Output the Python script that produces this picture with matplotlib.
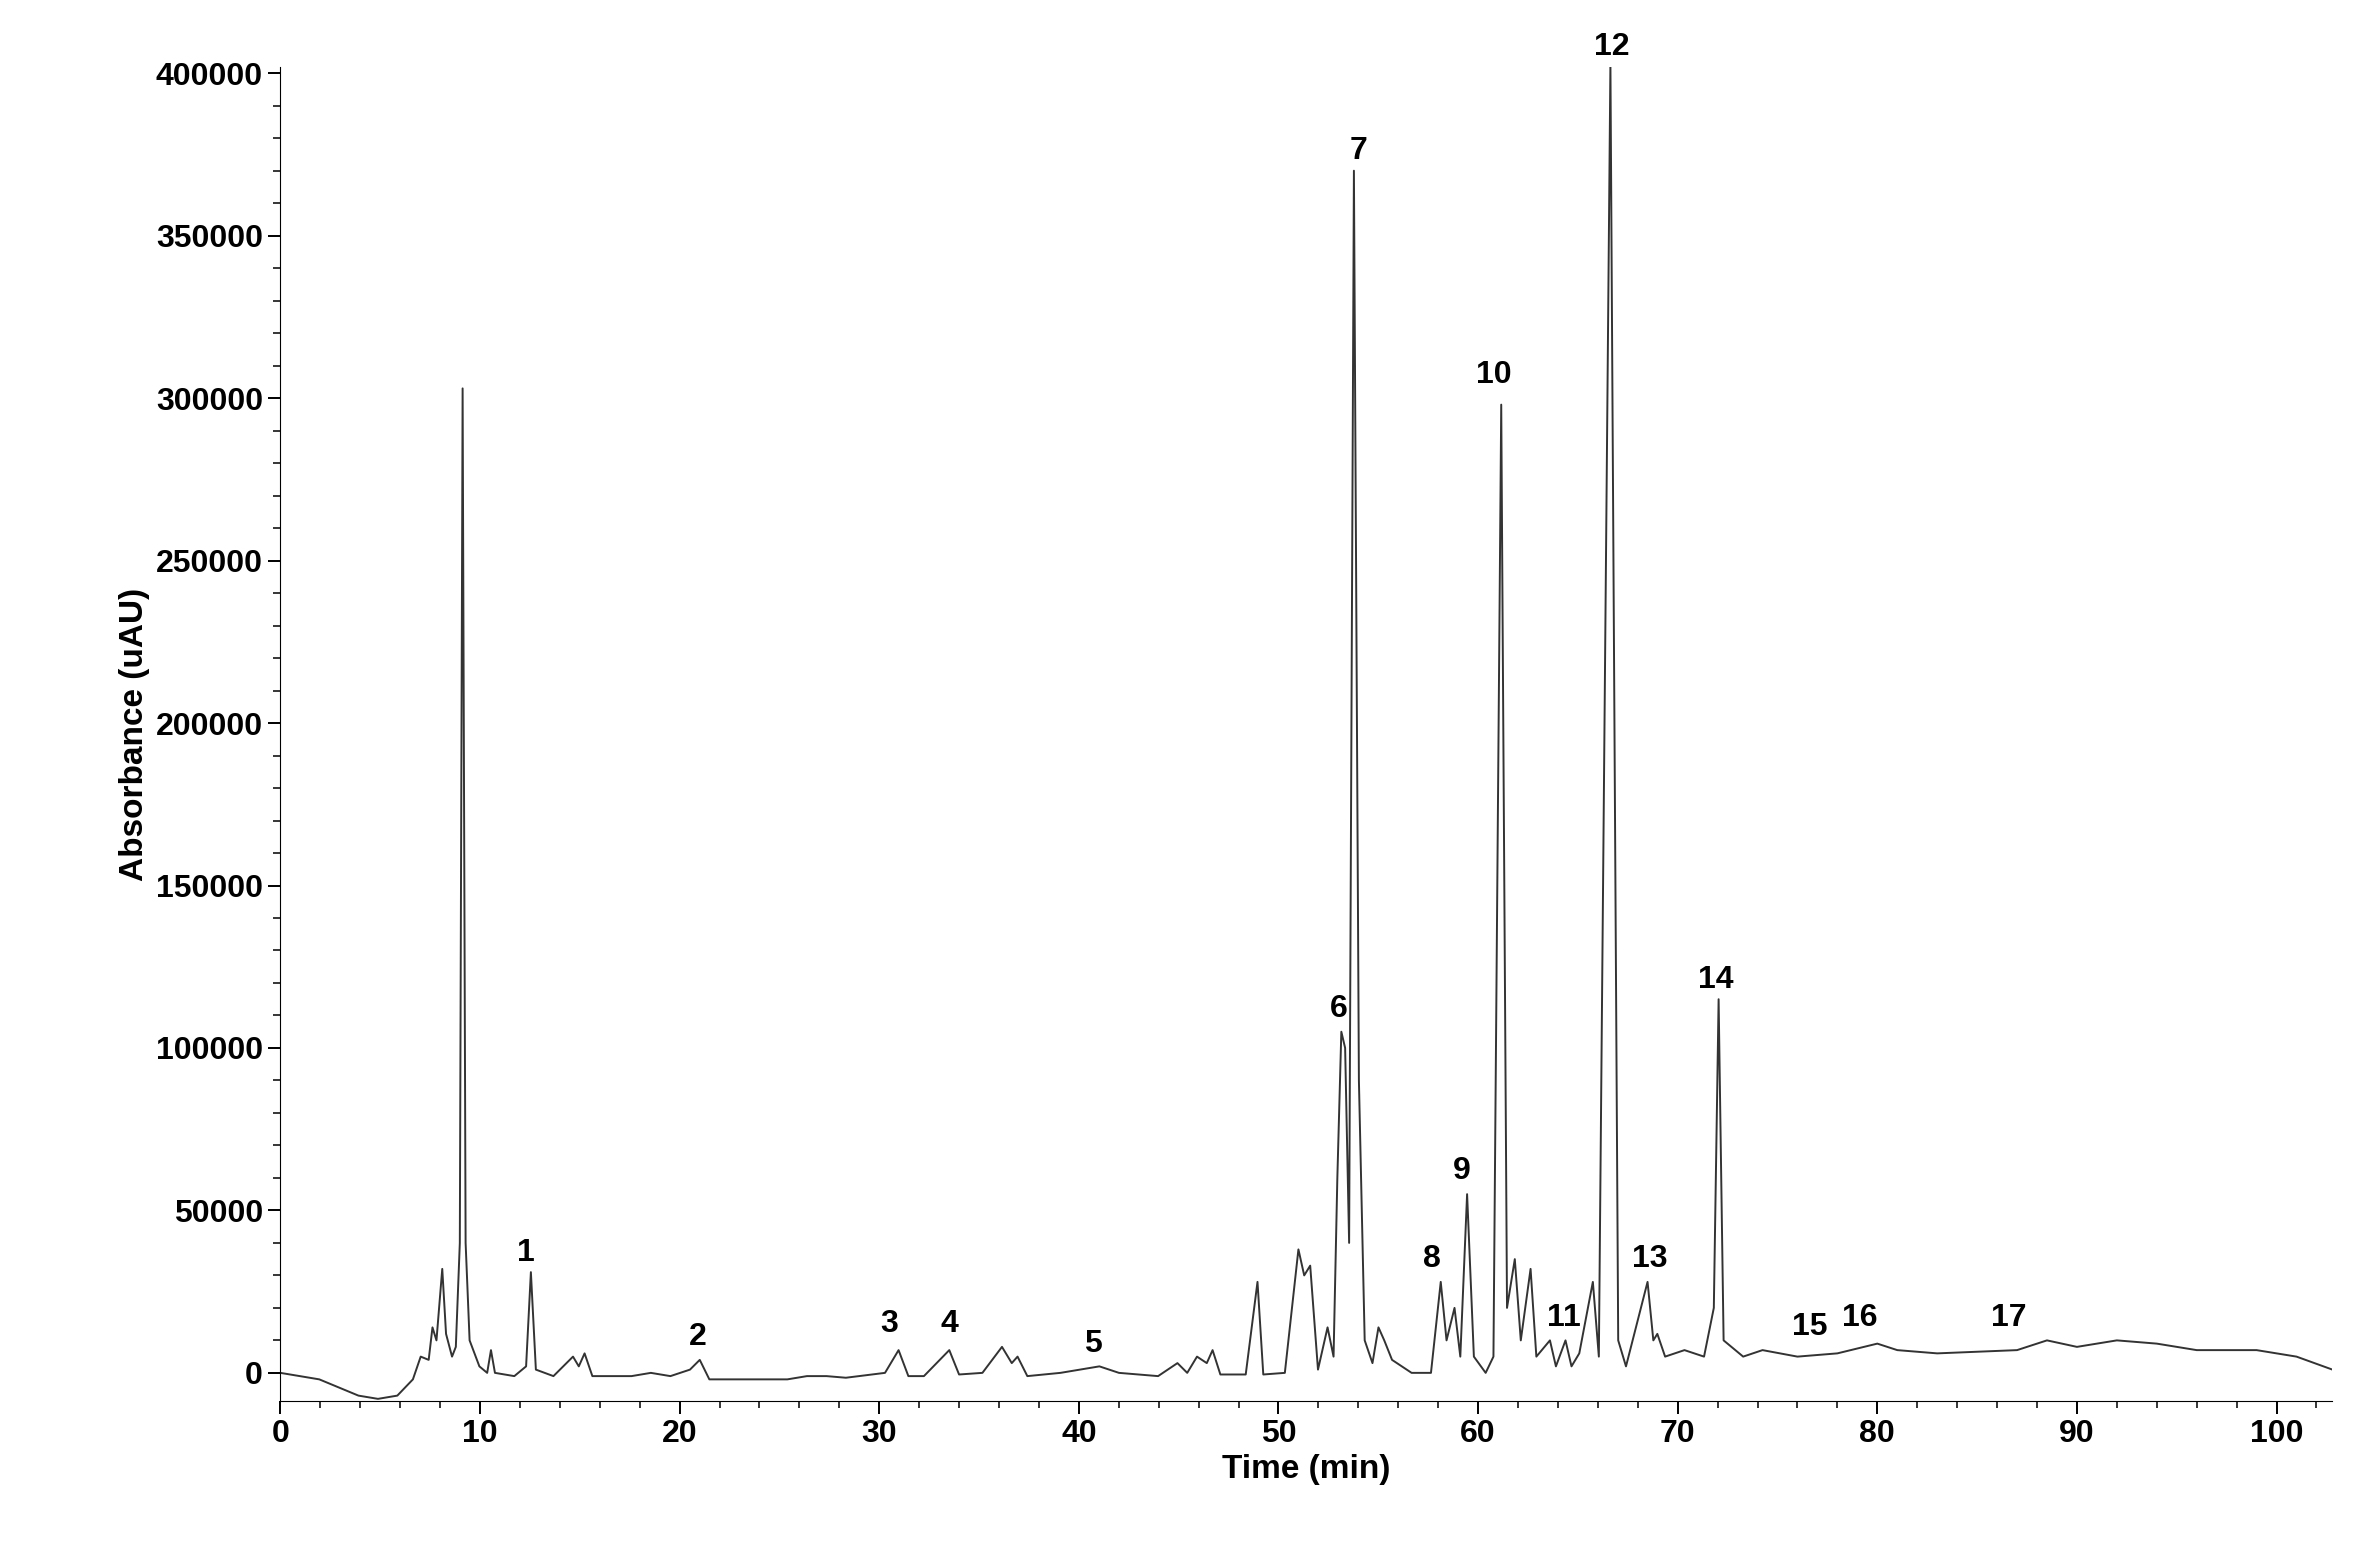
import matplotlib
matplotlib.use("Agg")
import matplotlib.pyplot as plt
from matplotlib.ticker import MultipleLocator

plt.rcParams['font.family'] = ['Liberation Sans', 'DejaVu Sans']

# chromatogram trace (time in min, absorbance in uAU)
times = [0, 1.95, 3.91, 4.89, 5.86, 6.64, 7.03, 7.43, 7.62, 7.82, 8.11, 8.30, 8.60, 8.79,
         8.99, 9.13, 9.28, 9.48, 9.97, 10.36, 10.55, 10.75, 11.72, 12.31, 12.55, 12.80,
         13.68, 14.66, 14.95, 15.24, 15.63, 17.59, 18.56, 19.54, 20.52, 21.01, 21.49, 25.40,
         26.38, 27.36, 28.33, 30.29, 30.97, 31.46, 32.24, 33.51, 34.00, 35.17, 36.15, 36.64,
         36.93, 37.42, 39.08, 41.03, 42.01, 43.97, 44.94, 45.43, 45.92, 46.41, 46.70, 47.09,
         48.36, 48.95, 49.24, 50.32, 51.00, 51.29, 51.59, 51.98, 52.46, 52.76, 52.95, 53.15,
         53.34, 53.54, 53.78, 54.03, 54.32, 54.71, 55.01, 55.30, 55.69, 56.67, 57.64, 58.13,
         58.42, 58.82, 59.11, 59.45, 59.79, 60.38, 60.77, 61.16, 61.45, 61.84, 62.14, 62.63,
         62.92, 63.60, 63.90, 64.38, 64.68, 65.07, 65.75, 66.05, 66.63, 67.02, 67.41, 68.49,
         68.78, 68.98, 69.37, 70.34, 71.32, 71.81, 72.05, 72.30, 73.28, 74.25, 76, 78, 80,
         81, 83, 85, 87, 88.5, 90, 92, 94, 96, 99, 101, 102.8]
absorb = [0, -2000, -7000, -8000, -7000, -2000, 5000, 4000, 14000, 10000, 32000, 12000,
          5000, 8000, 40000, 303000, 40000, 10000, 2000, 0, 7000, 0, -1000, 2000, 31000,
          1000, -1000, 5000, 2000, 6000, -1000, -1000, 0, -1000, 1000, 4000, -2000, -2000,
          -1000, -1000, -1500, 0, 7000, -1000, -1000, 7000, -500, 0, 8000, 3000, 5000,
          -1000, 0, 2000, 0, -1000, 3000, 0, 5000, 3000, 7000, -500, -500, 28000, -500, 0,
          38000, 30000, 33000, 1000, 14000, 5000, 60000, 105000, 100000, 40000, 370000,
          90000, 10000, 3000, 14000, 10000, 4000, 0, 0, 28000, 10000, 20000, 5000, 55000,
          5000, 0, 5000, 298000, 20000, 35000, 10000, 32000, 5000, 10000, 2000, 10000, 2000,
          6000, 28000, 5000, 403000, 10000, 2000, 28000, 10000, 12000, 5000, 7000, 5000,
          20000, 115000, 10000, 5000, 7000, 5000, 6000, 9000, 7000, 6000, 6500, 7000, 10000,
          8000, 10000, 9000, 7000, 7000, 5000, 1000]

peak_labels = [str(i) for i in range(1, 18)]
label_x = [12.3, 20.9, 30.5, 33.5, 40.7, 53.0, 54.0, 57.7, 59.2, 60.8, 64.3, 66.7, 68.6,
           71.9, 76.6, 79.1, 86.6]
label_y = [37000, 11000, 15000, 15000, 9000, 112000, 376000, 35000, 62000, 307000, 17000,
           408000, 35000, 121000, 14000, 17000, 17000]

fig = plt.figure(figsize=(23.56, 15.52), dpi=100)
ax = fig.add_axes([0.119, 0.097, 0.871, 0.86])
ax.plot(times, absorb, color="#333333", linewidth=1.4)

for lab, x, y in zip(peak_labels, label_x, label_y):
    ax.text(x, y, lab, ha="center", va="center", fontsize=23, fontweight="bold")

ax.set_xlim(0, 102.8)
ax.set_ylim(-8800, 402000)
ax.xaxis.set_major_locator(MultipleLocator(10))
ax.xaxis.set_minor_locator(MultipleLocator(2))
ax.yaxis.set_major_locator(MultipleLocator(50000))
ax.yaxis.set_minor_locator(MultipleLocator(10000))
for s in ["top", "right"]:
    ax.spines[s].set_visible(False)
ax.tick_params(which="major", length=9, width=1.4, labelsize=23)
ax.tick_params(which="minor", length=5, width=1.1)
for t in ax.get_xticklabels() + ax.get_yticklabels():
    t.set_fontweight("bold")
ax.set_xlabel("Time (min)", fontsize=24, fontweight="bold")
ax.set_ylabel("Absorbance (uAU)", fontsize=24, fontweight="bold")

fig.savefig("out.png", dpi=100)
